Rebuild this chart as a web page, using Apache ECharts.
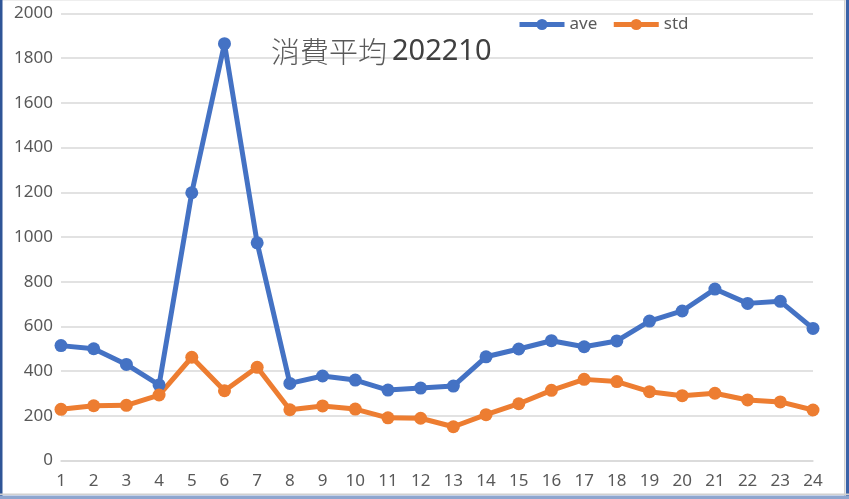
<!DOCTYPE html>
<html><head><meta charset="utf-8">
<script src="https://cdn.jsdelivr.net/npm/echarts@6/dist/echarts.min.js"></script>
<style>html,body{margin:0;padding:0;background:#fff;}#c{width:849px;height:499px;}</style>
</head><body><div id="c"></div>
<script>
const categories = ['1','2','3','4','5','6','7','8','9','10','11','12','13','14','15','16','17','18','19','20','21','22','23','24'];
const aveValues = [514, 500, 430, 338, 1198, 1865, 974, 345, 378, 360, 315, 324, 333, 464, 499, 536, 509, 535, 624, 669, 767, 703, 712, 591];
const stdValues = [229, 245, 247, 293, 462, 312, 417, 227, 244, 230, 191, 189, 151, 205, 254, 314, 363, 353, 308, 290, 301, 271, 262, 226];
const yTicks = {min: 0, max: 2000, interval: 200};

const chart = echarts.init(document.getElementById('c'), null, {renderer: 'canvas'});
const txt = '#595959';
const font = '"Noto Sans", sans-serif';
chart.setOption({
  animation: false,
  backgroundColor: '#fff',
  title: {
    text: '{a|消費平均} {b|202210}', left: 266, top: 32,
    textStyle: {
      rich: {
        a: {fontFamily: '"Noto Sans CJK TC", sans-serif', fontSize: 29, fontWeight: 300, color: txt},
        b: {fontFamily: font, fontSize: 29, fontWeight: 'normal', color: '#404040'}
      }
    }
  },
  legend: {
    left: 512, top: 11, itemWidth: 45, itemHeight: 14, itemGap: 14,
    textStyle: {fontFamily: font, fontSize: 17, color: txt},
    data: [
      {name: 'ave', itemStyle: {color: '#4472C4'}, lineStyle: {width: 5, color: '#4472C4'}},
      {name: 'std', itemStyle: {color: '#ED7D31'}, lineStyle: {width: 5, color: '#ED7D31'}}
    ]
  },
  grid: {left: 61, right: 36, top: 13.5, bottom: 38.5, containLabel: false},
  xAxis: {
    type: 'category', data: categories, boundaryGap: false,
    axisLine: {show: true, lineStyle: {color: '#d9d9d9', width: 1.5}},
    axisTick: {show: false},
    axisLabel: {fontFamily: font, fontSize: 17, color: txt, margin: 12}
  },
  yAxis: {
    type: 'value', min: yTicks.min, max: yTicks.max, interval: yTicks.interval,
    axisLine: {show: false}, axisTick: {show: false},
    splitLine: {lineStyle: {color: '#d9d9d9', width: 1.5}},
    axisLabel: {fontFamily: font, fontSize: 17, color: txt, margin: 8, formatter: v => String(v)}
  },
  series: [
    {name: 'ave', type: 'line', data: aveValues, symbol: 'circle', symbolSize: 13,
     lineStyle: {color: '#4472C4', width: 5}, itemStyle: {color: '#4472C4'}},
    {name: 'std', type: 'line', data: stdValues, symbol: 'circle', symbolSize: 13,
     lineStyle: {color: '#ED7D31', width: 5}, itemStyle: {color: '#ED7D31'}}
  ],
  graphic: [
    {type: 'rect', shape: {x: 0, y: 0, width: 849, height: 1}, style: {fill: '#eeeeee'}, silent: true},
    {type: 'rect', shape: {x: 0, y: 0, width: 2.5, height: 499}, style: {fill: '#2f5597'}, silent: true},
    {type: 'rect', shape: {x: 844, y: 0, width: 1.5, height: 499}, style: {fill: '#d0d0d0'}, silent: true},
    {type: 'rect', shape: {x: 846, y: 0, width: 3, height: 499}, style: {fill: '#3a62a8'}, silent: true},
    {type: 'rect', shape: {x: 0, y: 493.5, width: 849, height: 1.5}, style: {fill: '#d0d0d0'}, silent: true},
    {type: 'rect', shape: {x: 0, y: 495.5, width: 849, height: 3.5}, style: {fill: '#8ea6cf'}, silent: true}
  ]
});
</script></body></html>
